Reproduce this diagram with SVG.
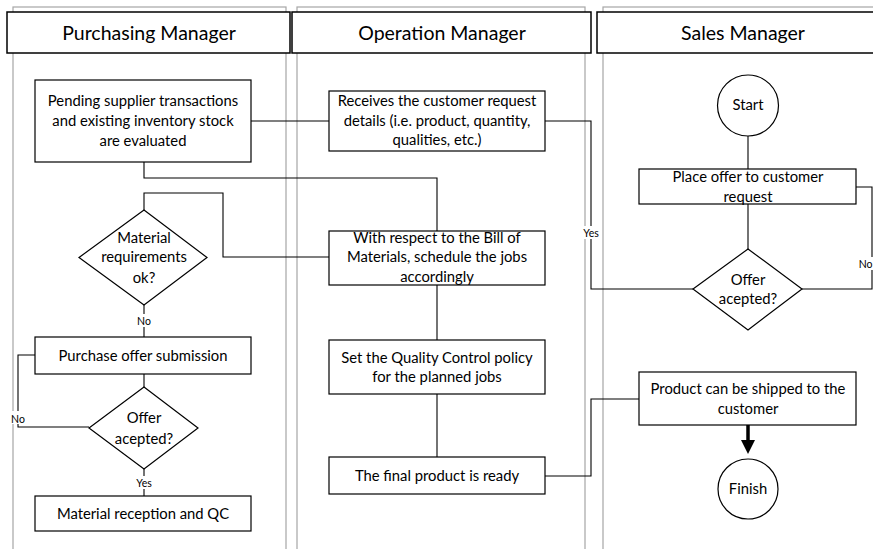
<svg xmlns="http://www.w3.org/2000/svg" width="873" height="549" viewBox="0 0 873 549">
<defs>
<style>
.lane{fill:none;stroke:#a6a6a6;stroke-width:1.2}
.hdr{fill:#fff;stroke:#000;stroke-width:1.5}
.hdrt{font-family:Lato,"Liberation Sans",sans-serif;font-size:19.5px;fill:#000;text-anchor:middle}
.box{fill:#fff;stroke:#000;stroke-width:1.2}
.t{font-family:Lato,"Liberation Sans",sans-serif;font-size:14.8px;fill:#000;text-anchor:middle}
.lbl{font-family:Lato,"Liberation Sans",sans-serif;font-size:10.5px;fill:#000;text-anchor:middle}
.ln{fill:none;stroke:#000;stroke-width:1.1}
.lblbg{fill:#fff}
</style>
<marker id="ah" markerWidth="4" markerHeight="4" refX="2" refY="2" orient="auto" markerUnits="strokeWidth">
<path d="M0,0 L4,2 L0,4 Z" fill="#000"/>
</marker>
</defs>
<rect width="873" height="549" fill="#fff"/>
<g id="lanes">
<rect class="lane" x="13" y="7" width="273" height="560"/>
<rect class="lane" x="297" y="7" width="288" height="560"/>
<rect class="lane" x="603" y="7" width="290" height="560"/>
<rect class="hdr" x="7" y="12" width="283" height="41"/>
<text class="hdrt" x="149" y="40">Purchasing Manager</text>
<rect class="hdr" x="292" y="12" width="299" height="41"/>
<text class="hdrt" x="442" y="40">Operation Manager</text>
<rect class="hdr" x="597" y="12" width="292" height="41"/>
<text class="hdrt" x="743" y="40">Sales Manager</text>
</g>
<g id="connectors">
<path class="ln" d="M251,121 H329"/>
<path class="ln" d="M144,162 V178 H437 V231"/>
<path class="ln" d="M144,210 V193 H223 V257 H329"/>
<path class="ln" d="M144,305 V337"/>
<rect class="lblbg" x="135" y="314" width="18" height="13"/>
<text class="lbl" x="144" y="325">No</text>
<path class="ln" d="M35,355 H18 V427 H89"/>
<rect class="lblbg" x="9" y="411" width="18" height="13"/>
<text class="lbl" x="18" y="423">No</text>
<path class="ln" d="M144,374 V387"/>
<path class="ln" d="M144,469 V496"/>
<rect class="lblbg" x="133" y="476" width="22" height="13"/>
<text class="lbl" x="144" y="487">Yes</text>
<path class="ln" d="M545,121 H591 V289 H693"/>
<rect class="lblbg" x="580" y="226" width="22" height="13"/>
<text class="lbl" x="591" y="237">Yes</text>
<path class="ln" d="M437,285 V340"/>
<path class="ln" d="M437,394 V457"/>
<path class="ln" d="M545,476 H591 V399 H639"/>
<path class="ln" d="M748,136 V169"/>
<path class="ln" d="M748,204 V249"/>
<path class="ln" d="M856,187 H872 V289 H802"/>
<rect class="lblbg" x="859" y="257" width="14" height="13"/>
<text class="lbl" x="872.5" y="268" style="text-anchor:end">No</text>
<path d="M748,425 V447" stroke="#000" stroke-width="3.5" fill="none" marker-end="url(#ah)"/>
</g>
<g id="n_pending">
<rect class="box" x="35" y="80" width="216" height="82"/>
<text class="t" x="143" y="106">Pending supplier transactions</text>
<text class="t" x="143" y="126">and existing inventory stock</text>
<text class="t" x="143" y="146">are evaluated</text>
</g>
<g id="n_material_ok">
<polygon class="box" points="144,210 207,257.5 144,305 79,257.5"/>
<text class="t" x="144" y="243">Material</text>
<text class="t" x="144" y="262">requirements</text>
<text class="t" x="144" y="283">ok?</text>
</g>
<g id="n_purchase">
<rect class="box" x="35" y="337" width="216" height="37"/>
<text class="t" x="143" y="361">Purchase offer submission</text>
</g>
<g id="n_offer1">
<polygon class="box" points="144,387 198,428 144,469 89,428"/>
<text class="t" x="144" y="423">Offer</text>
<text class="t" x="144" y="444">acepted?</text>
</g>
<g id="n_reception">
<rect class="box" x="35" y="496" width="216" height="35"/>
<text class="t" x="143" y="519">Material reception and QC</text>
</g>
<g id="n_receives">
<rect class="box" x="329" y="91" width="216" height="60"/>
<text class="t" x="437" y="106">Receives the customer request</text>
<text class="t" x="437" y="126">details (i.e. product, quantity,</text>
<text class="t" x="437" y="145">qualities, etc.)</text>
</g>
<g id="n_schedule">
<rect class="box" x="329" y="231" width="216" height="54"/>
<text class="t" x="437" y="243">With respect to the Bill of</text>
<text class="t" x="437" y="262">Materials, schedule the jobs</text>
<text class="t" x="437" y="282">accordingly</text>
</g>
<g id="n_qc">
<rect class="box" x="329" y="340" width="216" height="54"/>
<text class="t" x="437" y="363">Set the Quality Control policy</text>
<text class="t" x="437" y="382">for the planned jobs</text>
</g>
<g id="n_final">
<rect class="box" x="329" y="457" width="216" height="37"/>
<text class="t" x="437" y="481">The final product is ready</text>
</g>
<g id="n_start">
<circle class="box" cx="748" cy="105.5" r="30.5"/>
<text class="t" x="748" y="110">Start</text>
</g>
<g id="n_place">
<rect class="box" x="639" y="169" width="217" height="35"/>
<text class="t" x="748" y="182">Place offer to customer</text>
<text class="t" x="748" y="202">request</text>
</g>
<g id="n_offer2">
<polygon class="box" points="748,249 802,289 748,330 693,289"/>
<text class="t" x="748" y="285">Offer</text>
<text class="t" x="748" y="304">acepted?</text>
</g>
<g id="n_ship">
<rect class="box" x="639" y="372" width="217" height="53"/>
<text class="t" x="748" y="394">Product can be shipped to the</text>
<text class="t" x="748" y="414">customer</text>
</g>
<g id="n_finish">
<circle class="box" cx="748" cy="489" r="30"/>
<text class="t" x="748" y="494">Finish</text>
</g>
</svg>
